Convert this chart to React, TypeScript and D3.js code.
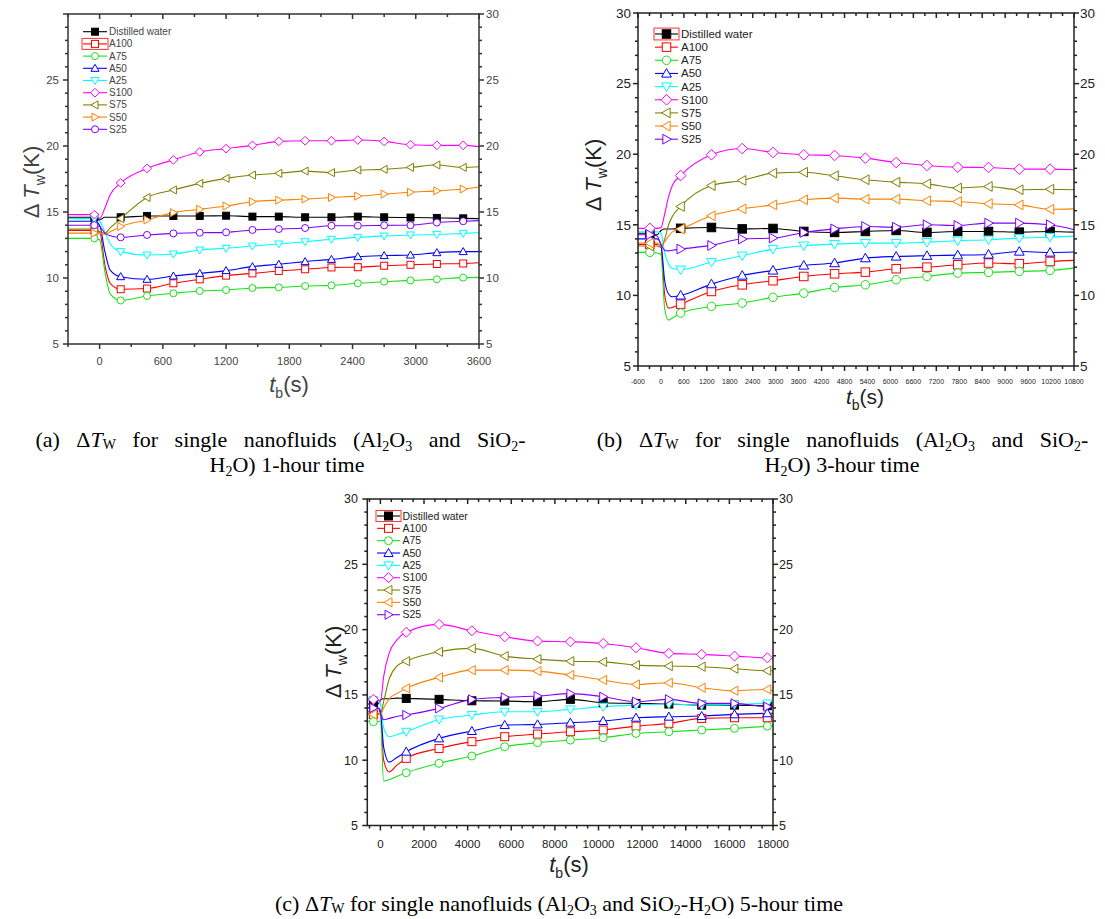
import React from 'react';
import * as d3 from 'd3';

// ---------------- data ----------------
const SERIES = ['Distilled water', 'A100', 'A75', 'A50', 'A25', 'S100', 'S75', 'S50', 'S25'];
const COLORS = ['#000000', '#ff0000', '#19e019', '#0000ff', '#00ffff', '#ff00ff', '#808000', '#ff8000', '#8000ff'];
const SHAPES_A = ['sqf', 'sq', 'ci', 'tu', 'td', 'di', 'tl', 'tr', 'ci'];
const SHAPES_BC = ['sqf', 'sq', 'ci', 'tu', 'td', 'di', 'tl', 'tl', 'tr'];

// Panel (a) 1-hour
const TIME_A = [-300, -50, 0, 50, 100, 200, 450, 700, 950, 1200, 1450, 1700, 1950, 2200, 2450, 2700, 2950, 3200, 3450, 3600];
const MARK_A = [-50, 200, 450, 700, 950, 1200, 1450, 1700, 1950, 2200, 2450, 2700, 2950, 3200, 3450];
const A_WATER = [14.6, 14.6, 14.4, 14.6, 14.6, 14.6, 14.7, 14.7, 14.7, 14.72, 14.65, 14.65, 14.6, 14.6, 14.65, 14.6, 14.58, 14.55, 14.52, 14.5];
const A_A100 = [13.6, 13.6, 13.5, 11.0, 9.6, 9.15, 9.2, 9.6, 9.9, 10.18, 10.35, 10.53, 10.66, 10.8, 10.82, 10.93, 11.0, 11.06, 11.1, 11.16];
const A_A75 = [13.0, 13.0, 12.9, 10.5, 8.8, 8.3, 8.64, 8.84, 9.02, 9.09, 9.24, 9.29, 9.39, 9.44, 9.6, 9.72, 9.82, 9.9, 10.03, 10.05];
const A_A50 = [14.3, 14.3, 14.0, 12.0, 10.6, 10.1, 9.9, 10.15, 10.35, 10.56, 10.86, 11.04, 11.24, 11.41, 11.62, 11.7, 11.74, 11.92, 12.0, 12.0];
const A_A25 = [14.5, 14.5, 14.3, 13.5, 12.6, 12.0, 11.74, 11.82, 12.12, 12.25, 12.42, 12.58, 12.75, 12.93, 13.08, 13.18, 13.26, 13.3, 13.38, 13.43];
const A_S100 = [14.8, 14.8, 14.5, 15.3, 16.3, 17.2, 18.3, 18.95, 19.55, 19.8, 20.05, 20.35, 20.4, 20.4, 20.45, 20.35, 20.1, 20.05, 20.05, 19.95];
const A_S75 = [13.7, 13.7, 13.5, 13.4, 13.8, 14.5, 16.1, 16.67, 17.17, 17.55, 17.8, 17.93, 18.1, 17.98, 18.18, 18.23, 18.38, 18.56, 18.38, 18.43];
const A_S50 = [13.4, 13.4, 13.4, 13.3, 13.5, 13.9, 14.4, 14.95, 15.2, 15.45, 15.78, 15.9, 15.98, 16.1, 16.2, 16.36, 16.5, 16.6, 16.74, 16.87];
const A_S25 = [14.0, 14.0, 13.9, 13.4, 13.2, 13.08, 13.26, 13.38, 13.43, 13.46, 13.64, 13.71, 13.79, 13.96, 13.96, 13.99, 14.0, 14.2, 14.3, 14.35];

// Panel (b) 3-hour
const TIME_B = [-600, -290, -100, 0, 100, 200, 300, 515, 1320, 2125, 2930, 3735, 4540, 5345, 6150, 6955, 7760, 8565, 9370, 10175, 10800];
const MARK_B = [-290, 515, 1320, 2125, 2930, 3735, 4540, 5345, 6150, 6955, 7760, 8565, 9370, 10175];
const B_WATER = [14.4, 14.4, 14.3, 14.6, 14.7, 14.7, 14.7, 14.75, 14.81, 14.71, 14.74, 14.53, 14.46, 14.53, 14.6, 14.46, 14.53, 14.53, 14.48, 14.53, 14.48];
const B_A100 = [13.6, 13.6, 13.6, 13.5, 10.0, 9.1, 9.15, 9.38, 10.28, 10.75, 11.04, 11.34, 11.53, 11.65, 11.89, 12.0, 12.17, 12.29, 12.24, 12.4, 12.48];
const B_A75 = [13.05, 13.05, 13.0, 12.9, 9.0, 8.25, 8.4, 8.75, 9.22, 9.46, 9.86, 10.16, 10.56, 10.75, 11.11, 11.34, 11.58, 11.63, 11.7, 11.77, 11.93];
const B_A50 = [14.0, 14.0, 14.0, 13.6, 11.0, 10.1, 9.9, 10.0, 10.8, 11.41, 11.77, 12.12, 12.29, 12.64, 12.76, 12.81, 12.85, 12.9, 13.11, 13.04, 13.07];
const B_A25 = [14.5, 14.5, 14.5, 14.4, 13.0, 12.2, 11.9, 11.82, 12.36, 12.81, 13.28, 13.52, 13.63, 13.7, 13.7, 13.77, 13.87, 13.94, 14.06, 14.13, 14.2];
const B_S100 = [14.75, 14.75, 14.75, 14.8, 15.8, 17.0, 17.8, 18.49, 19.96, 20.4, 20.12, 19.96, 19.91, 19.72, 19.41, 19.2, 19.08, 19.06, 18.94, 18.94, 18.9];
const B_S75 = [13.5, 13.5, 13.5, 13.4, 14.0, 15.0, 15.6, 16.3, 17.78, 18.14, 18.66, 18.72, 18.47, 18.19, 18.02, 17.9, 17.6, 17.71, 17.48, 17.52, 17.48];
const B_S50 = [13.7, 13.7, 13.7, 13.5, 13.8, 14.2, 14.5, 14.7, 15.64, 16.13, 16.41, 16.77, 16.89, 16.82, 16.82, 16.7, 16.65, 16.49, 16.41, 16.1, 16.13];
const B_S25 = [14.3, 14.3, 14.2, 13.6, 13.2, 13.15, 13.2, 13.28, 13.54, 13.99, 14.06, 14.46, 14.71, 14.88, 14.83, 15.0, 14.95, 15.12, 15.12, 15.0, 14.65];

// Panel (c) 5-hour
const TIME_C = [-600, -320, -100, 0, 150, 400, 750, 1185, 2690, 4195, 5700, 7205, 8710, 10215, 11720, 13225, 14730, 16235, 17740, 18000];
const MARK_C = [-320, 1185, 2690, 4195, 5700, 7205, 8710, 10215, 11720, 13225, 14730, 16235, 17740];
const C_WATER = [14.3, 14.3, 14.3, 14.6, 14.7, 14.7, 14.75, 14.73, 14.66, 14.55, 14.53, 14.48, 14.66, 14.4, 14.35, 14.3, 14.22, 14.22, 14.17, 14.17];
const C_A100 = [13.5, 13.5, 13.5, 13.5, 10.0, 9.1, 9.6, 10.14, 10.9, 11.42, 11.8, 12.0, 12.18, 12.31, 12.61, 12.82, 13.2, 13.25, 13.25, 13.25];
const C_A75 = [13.0, 12.95, 12.95, 13.0, 8.4, 8.5, 8.75, 9.04, 9.76, 10.32, 11.03, 11.34, 11.54, 11.72, 12.05, 12.18, 12.31, 12.44, 12.61, 12.65];
const C_A50 = [14.0, 14.0, 14.0, 13.8, 11.0, 9.85, 10.2, 10.65, 11.67, 12.23, 12.69, 12.74, 12.87, 13.0, 13.25, 13.33, 13.38, 13.51, 13.59, 13.6];
const C_A25 = [14.6, 14.6, 14.6, 14.3, 12.5, 11.8, 11.95, 12.18, 13.12, 13.46, 13.71, 13.71, 13.89, 14.1, 14.22, 14.3, 14.22, 14.27, 14.35, 14.35];
const C_S100 = [14.7, 14.66, 14.6, 14.5, 16.4, 18.2, 19.2, 19.79, 20.4, 19.91, 19.45, 19.12, 19.07, 18.94, 18.61, 18.18, 18.1, 17.97, 17.84, 17.84];
const C_S75 = [13.6, 13.6, 13.6, 13.5, 14.5, 16.2, 17.2, 17.58, 18.3, 18.56, 17.97, 17.74, 17.58, 17.53, 17.28, 17.21, 17.16, 17.0, 16.85, 16.85];
const C_S50 = [13.5, 13.5, 13.5, 13.5, 14.0, 14.7, 15.1, 15.5, 16.34, 16.9, 16.9, 16.82, 16.52, 16.14, 15.8, 15.93, 15.55, 15.32, 15.42, 15.3];
const C_S25 = [14.0, 14.0, 14.0, 13.6, 13.1, 13.2, 13.35, 13.46, 13.97, 14.66, 14.81, 14.91, 15.1, 14.86, 14.48, 14.66, 14.35, 14.35, 14.1, 14.1];

// tick labels
const X_TICKS_A = [0, 600, 1200, 1800, 2400, 3000, 3600];
const X_TICKS_B = [-600, 0, 600, 1200, 1800, 2400, 3000, 3600, 4200, 4800, 5400, 6000, 6600, 7200, 7800, 8400, 9000, 9600, 10200, 10800];
const X_TICKS_C = [0, 2000, 4000, 6000, 8000, 10000, 12000, 14000, 16000, 18000];
const Y_TICKS = [5, 10, 15, 20, 25, 30];
const Y_TICKS_LEFT_A = [5, 10, 15, 20, 25];

// ---------------- layout ----------------
const SANS = "'Liberation Sans', Arial, sans-serif";
const SERIF = "'Liberation Serif', 'Times New Roman', serif";

const CFG_A = {
  left: 68, right: 479, top: 14, bottom: 344, xMin: -300, xMax: 3600, minorStart: -300, minorStep: 300,
  xLabSize: 11, yLabSize: 11.5, txt: '#444', axis: '#333', mSize: 7,
  xLabDy: 21, yLabLeftX: 59, yLabRightX: 486,
  yTitle: { x: 31, y: 182 }, xTitle: { x: 289, y: 392, size: 22 },
  legend: { x0: 83, x1: 107, tx: 109, y0: 31.7, dy: 12.2, size: 10, m: 7, box: 1 },
};
const CFG_B = {
  left: 638, right: 1074, top: 13, bottom: 366, xMin: -600, xMax: 10800, minorStart: -600, minorStep: 300,
  xLabSize: 7, yLabSize: 13.5, txt: '#222', axis: '#222', mSize: 8.5,
  xLabDy: 18, yLabLeftX: 631, yLabRightX: 1080,
  yTitle: { x: 593, y: 175 }, xTitle: { x: 865, y: 404, size: 21 },
  legend: { x0: 655, x1: 678, tx: 681, y0: 34, dy: 13.15, size: 11.5, m: 8.5, box: 0 },
};
const CFG_C = {
  left: 367.3, right: 773, top: 499, bottom: 825.5, xMin: -600, xMax: 18000, minorStart: -500, minorStep: 500,
  xLabSize: 11.5, yLabSize: 12.5, txt: '#222', axis: '#222', mSize: 8,
  xLabDy: 22, yLabLeftX: 358, yLabRightX: 779,
  yTitle: { x: 333, y: 662 }, xTitle: { x: 569, y: 872, size: 22 },
  legend: { x0: 377, x1: 400, tx: 402.5, y0: 516, dy: 12.34, size: 10.5, m: 8, box: 0 },
};

function marker(shape: string, cx: number, cy: number, s: number, color: string, key: string) {
  const h = s / 2;
  const common = { stroke: color, strokeWidth: 1, fill: '#ffffff' };
  switch (shape) {
    case 'sqf':
      return <rect key={key} x={cx - h} y={cy - h} width={s} height={s} fill={color} stroke={color} />;
    case 'sq':
      return <rect key={key} x={cx - h} y={cy - h} width={s} height={s} {...common} />;
    case 'ci':
      return <circle key={key} cx={cx} cy={cy} r={h} {...common} />;
    case 'di': {
      const d = h * 1.25;
      return <polygon key={key} points={`${cx},${cy - d} ${cx + d},${cy} ${cx},${cy + d} ${cx - d},${cy}`} {...common} />;
    }
    case 'tu': {
      const a = h * 1.15;
      return <polygon key={key} points={`${cx},${cy - a} ${cx + a},${cy + a * 0.75} ${cx - a},${cy + a * 0.75}`} {...common} />;
    }
    case 'td': {
      const a = h * 1.15;
      return <polygon key={key} points={`${cx},${cy + a} ${cx + a},${cy - a * 0.75} ${cx - a},${cy - a * 0.75}`} {...common} />;
    }
    case 'tl': {
      const a = h * 1.15;
      return <polygon key={key} points={`${cx - a},${cy} ${cx + a * 0.75},${cy - a} ${cx + a * 0.75},${cy + a}`} {...common} />;
    }
    case 'tr': {
      const a = h * 1.15;
      return <polygon key={key} points={`${cx + a},${cy} ${cx - a * 0.75},${cy - a} ${cx - a * 0.75},${cy + a}`} {...common} />;
    }
  }
  return null;
}

function Panel({ cfg, times, marks, series, shapes, xTicks, yLeft }: any) {
  const x = d3.scaleLinear().domain([cfg.xMin, cfg.xMax]).range([cfg.left, cfg.right]);
  const y = d3.scaleLinear().domain([5, 30]).range([cfg.bottom, cfg.top]);
  const minorX = d3.range(cfg.minorStart, cfg.xMax + 0.1, cfg.minorStep).filter((v: number) => !xTicks.includes(v));
  const minorY = d3.range(6, 30, 1).filter((v: number) => v % 5 !== 0);
  const line = d3.line<number>().x((_, i) => x(times[i])).y((d) => y(d)).curve(d3.curveMonotoneX);
  const sw = 1.5;
  const L = cfg.legend;
  return (
    <g>
      <g>
        {series.map((vals: number[], si: number) => (
          <path key={'l' + si} d={line(vals) || ''} fill="none" stroke={COLORS[si]} strokeWidth={1.1} />
        ))}
        {series.map((vals: number[], si: number) =>
          marks.map((t: number, mi: number) => {
            const idx = times.indexOf(t);
            return marker(shapes[si], x(t), y(vals[idx]), cfg.mSize, COLORS[si], `m${si}-${mi}`);
          })
        )}
      </g>
      <rect x={cfg.left} y={cfg.top} width={cfg.right - cfg.left} height={cfg.bottom - cfg.top} fill="none" stroke={cfg.axis} strokeWidth={sw} />
      {xTicks.map((v: number) => (
        <g key={'xt' + v}>
          <line x1={x(v)} x2={x(v)} y1={cfg.bottom} y2={cfg.bottom + 5} stroke={cfg.axis} strokeWidth={sw} />
          <line x1={x(v)} x2={x(v)} y1={cfg.top} y2={cfg.top + 5} stroke={cfg.axis} strokeWidth={sw} />
          <text x={x(v)} y={cfg.bottom + cfg.xLabDy} textAnchor="middle" fontFamily={SANS} fontSize={cfg.xLabSize} fill={cfg.txt}>{v}</text>
        </g>
      ))}
      {minorX.map((v: number) => (
        <g key={'xm' + v}>
          <line x1={x(v)} x2={x(v)} y1={cfg.bottom} y2={cfg.bottom + 3} stroke={cfg.axis} strokeWidth={sw} />
          <line x1={x(v)} x2={x(v)} y1={cfg.top} y2={cfg.top + 3} stroke={cfg.axis} strokeWidth={sw} />
        </g>
      ))}
      {Y_TICKS.map((v: number) => (
        <g key={'yt' + v}>
          <line x1={cfg.left - 5} x2={cfg.left} y1={y(v)} y2={y(v)} stroke={cfg.axis} strokeWidth={sw} />
          <line x1={cfg.right} x2={cfg.right + 5} y1={y(v)} y2={y(v)} stroke={cfg.axis} strokeWidth={sw} />
          <text x={cfg.yLabRightX} y={y(v)} dy="0.35em" textAnchor="start" fontFamily={SANS} fontSize={cfg.yLabSize} fill={cfg.txt}>{v}</text>
        </g>
      ))}
      {yLeft.map((v: number) => (
        <text key={'yl' + v} x={cfg.yLabLeftX} y={y(v)} dy="0.35em" textAnchor="end" fontFamily={SANS} fontSize={cfg.yLabSize} fill={cfg.txt}>{v}</text>
      ))}
      {minorY.map((v: number) => (
        <g key={'ym' + v}>
          <line x1={cfg.left - 3} x2={cfg.left} y1={y(v)} y2={y(v)} stroke={cfg.axis} strokeWidth={sw} />
          <line x1={cfg.right} x2={cfg.right + 3} y1={y(v)} y2={y(v)} stroke={cfg.axis} strokeWidth={sw} />
        </g>
      ))}
      <text transform={`translate(${cfg.yTitle.x},${cfg.yTitle.y}) rotate(-90)`} textAnchor="middle" fontFamily={SANS} fontSize={22} fill={cfg.txt} dy="0.35em">
        <tspan>{'Δ '}</tspan>
        <tspan fontStyle="italic">T</tspan>
        <tspan fontSize={14} dy={6}>w</tspan>
        <tspan dy={-6}>(K)</tspan>
      </text>
      <text x={cfg.xTitle.x} y={cfg.xTitle.y} textAnchor="middle" fontFamily={SANS} fontSize={cfg.xTitle.size} fill={cfg.txt}>
        <tspan fontStyle="italic">t</tspan>
        <tspan fontSize={14} dy={6}>b</tspan>
        <tspan dy={-6}>(s)</tspan>
      </text>
      {SERIES.map((name, si) => {
        const ly = L.y0 + si * L.dy;
        return (
          <g key={'lg' + si}>
            <line x1={L.x0} x2={L.x1} y1={ly} y2={ly} stroke={COLORS[si]} strokeWidth={1.1} />
            {marker(shapes[si], (L.x0 + L.x1) / 2, ly, L.m, COLORS[si], 'lm' + si)}
            <text x={L.tx} y={ly} dy="0.35em" fontFamily={SANS} fontSize={L.size} fill={cfg.txt}>{name}</text>
          </g>
        );
      })}
      <rect x={L.x0 - 1} y={L.y0 + L.box * L.dy - L.dy * 0.45} width={L.x1 - L.x0 + 2} height={L.dy * 0.9} fill="none" stroke="#ff3030" strokeWidth={1} />
    </g>
  );
}

const CAP_SIZE = 22;
const SUB = 14;

function Caption({ x, y, label, tail, first, wordSpacing }: any) {
  return (
    <text x={x} y={y} textAnchor="middle" fontFamily={SERIF} fontSize={CAP_SIZE} fill="#000" wordSpacing={wordSpacing || 0}>
      <tspan>{label + ' Δ'}</tspan>
      <tspan fontStyle="italic">T</tspan>
      <tspan fontSize={SUB} dy={2}>W</tspan>
      <tspan dy={-2}>{' for single nanofluids (Al'}</tspan>
      <tspan fontSize={SUB} dy={4}>2</tspan>
      <tspan dy={-4}>O</tspan>
      <tspan fontSize={SUB} dy={4}>3</tspan>
      <tspan dy={-4}>{' and SiO'}</tspan>
      <tspan fontSize={SUB} dy={4}>2</tspan>
      <tspan dy={-4}>{first ? '-' : '-H'}</tspan>
      {first ? null : <tspan fontSize={SUB} dy={4}>2</tspan>}
      {first ? null : <tspan dy={-4}>{'O) ' + tail}</tspan>}
    </text>
  );
}

function Caption2({ x, y, tail }: any) {
  return (
    <text x={x} y={y} textAnchor="middle" fontFamily={SERIF} fontSize={CAP_SIZE} fill="#000">
      <tspan>H</tspan>
      <tspan fontSize={SUB} dy={4}>2</tspan>
      <tspan dy={-4}>{'O) ' + tail}</tspan>
    </text>
  );
}

export default function App() {
  return (
    <svg width={1105} height={919} style={{ position: 'absolute', left: 0, top: 0, background: '#fff' }}>
      <rect x={0} y={0} width={1105} height={919} fill="#fff" />
      <Panel cfg={CFG_A} times={TIME_A} marks={MARK_A} shapes={SHAPES_A} xTicks={X_TICKS_A} yLeft={Y_TICKS_LEFT_A}
        series={[A_WATER, A_A100, A_A75, A_A50, A_A25, A_S100, A_S75, A_S50, A_S25]} />
      <Panel cfg={CFG_B} times={TIME_B} marks={MARK_B} shapes={SHAPES_BC} xTicks={X_TICKS_B} yLeft={Y_TICKS}
        series={[B_WATER, B_A100, B_A75, B_A50, B_A25, B_S100, B_S75, B_S50, B_S25]} />
      <Panel cfg={CFG_C} times={TIME_C} marks={MARK_C} shapes={SHAPES_BC} xTicks={X_TICKS_C} yLeft={Y_TICKS}
        series={[C_WATER, C_A100, C_A75, C_A50, C_A25, C_S100, C_S75, C_S50, C_S25]} />
      <Caption x={280.5} y={447} label="(a)" first wordSpacing={11} />
      <Caption2 x={287} y={472} tail="1-hour time" />
      <Caption x={842.5} y={447} label="(b)" first wordSpacing={11} />
      <Caption2 x={842} y={472} tail="3-hour time" />
      <Caption x={559} y={911} label="(c)" tail="5-hour time" />
    </svg>
  );
}
